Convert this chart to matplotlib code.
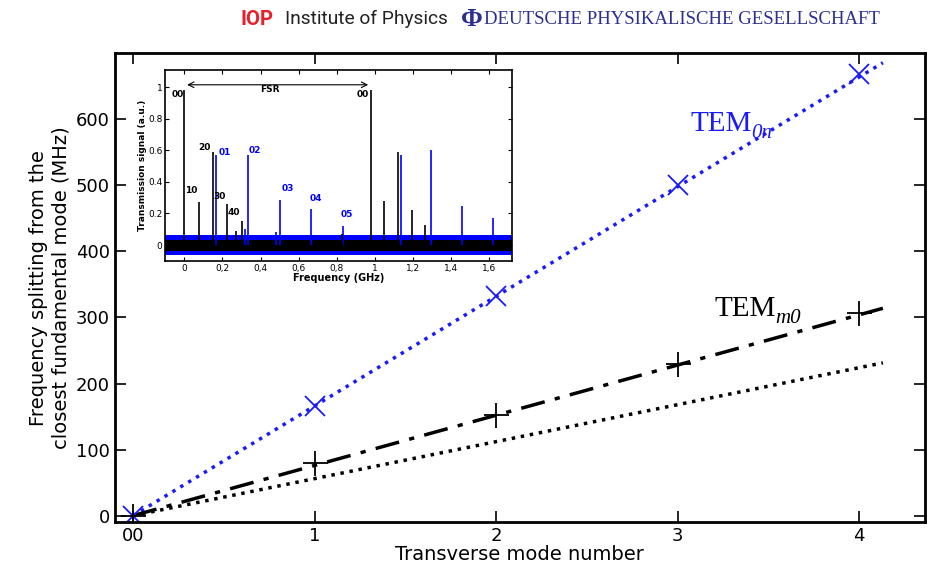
import matplotlib
matplotlib.use("Agg")
import matplotlib.pyplot as plt

# main plot data
modos = [0, 1, 2, 3, 4]
etiquetas_x = ["00", "1", "2", "3", "4"]
tem_0n = [0, 166, 332, 500, 668]
tem_m0 = [0, 79, 152, 230, 306]

# theoretical lines (slope in MHz per mode)
x_teoria = [0, 4.13]
pend_0n = 166
pend_m0 = 76
pend_punt = 56

# inset spectrum peaks
pico_negro_f = [0.0, 0.075, 0.152, 0.225, 0.305, 0.98, 1.05, 1.12, 1.195, 1.265, 0.27, 0.83]
pico_negro_h = [0.98, 0.27, 0.59, 0.26, 0.155, 0.98, 0.28, 0.59, 0.225, 0.125, 0.09, 0.07]
pico_azul_f = [0.165, 0.333, 0.50, 0.667, 0.833, 1.14, 1.297, 1.46, 1.62, 0.48, 0.32]
pico_azul_h = [0.57, 0.57, 0.285, 0.23, 0.12, 0.57, 0.60, 0.25, 0.17, 0.08, 0.10]

etiquetas_n = [("00", -0.005, 0.94), ("20", 0.14, 0.60), ("10", 0.07, 0.33),
               ("30", 0.215, 0.29), ("40", 0.295, 0.19), ("00", 0.97, 0.94)]
etiquetas_a = [("01", 0.18, 0.57), ("02", 0.34, 0.58), ("03", 0.51, 0.34),
               ("04", 0.66, 0.28), ("05", 0.82, 0.18)]

AZUL = "#1a1aff"

fig = plt.figure(figsize=(9.34, 5.72), dpi=100)
ax = fig.add_axes([0.123, 0.087, 0.867, 0.820])

xs = [x_teoria[0], x_teoria[1]]
ax.plot(xs, [pend_0n * x for x in xs], ":", color=AZUL, lw=2.5)
ax.plot(xs, [pend_m0 * x for x in xs], "-.", color="black", lw=2.5, dashes=(7, 3, 1.5, 3))
ax.plot(xs, [pend_punt * x for x in xs], ":", color="black", lw=2.5)
ax.plot(modos, tem_0n, "x", color=AZUL, ms=14, mew=1.3)
ax.plot(modos, tem_m0, "+", color="black", ms=18, mew=1.3)

def etiqueta_tem(x, y, sub, color):
    ax.text(x, y, "TEM", color=color, fontsize=21, family="Liberation Serif")
    ax.annotate(sub, xy=(x, y), xytext=(44, -5), textcoords="offset points",
                color=color, fontsize=15, family="Liberation Serif", style="italic")

etiqueta_tem(3.07, 582, "0n", AZUL)
etiqueta_tem(3.2, 302, "m0", "black")

ax.set_xlim(-0.1, 4.36)
ax.set_ylim(-10, 700)
ax.set_xticks(modos)
ax.set_xticklabels(etiquetas_x)
ax.set_yticks(range(0, 700, 100))
ax.tick_params(direction="in", length=8, width=1.2, top=True, right=True, labelsize=13)
for s in ax.spines.values():
    s.set_linewidth(2)
ax.set_xlabel("Transverse mode number", fontsize=14, labelpad=0)
ax.set_ylabel("Frequency splitting from the\nclosest fundamental mode (MHz)", fontsize=14)

# inset
ins = fig.add_axes([0.177, 0.544, 0.371, 0.334])
ins.fill_between([-0.1, 1.72], -0.065, 0.065, color="blue", lw=0)
ins.fill_between([-0.1, 1.72], -0.035, 0.035, color="black", lw=0)
ins.vlines(pico_azul_f, 0, pico_azul_h, color="blue", lw=1.2)
ins.vlines(pico_negro_f, 0, pico_negro_h, color="black", lw=1.2)
ins.annotate("", xy=(0.0, 1.015), xytext=(0.98, 1.015),
             arrowprops=dict(arrowstyle="<->", lw=0.8, color="black"))
ins.text(0.45, 0.97, "FSR", fontsize=6.5, fontweight="bold", ha="center")
for t, x, y in etiquetas_n:
    ins.text(x, y, t, fontsize=6.5, fontweight="bold", ha="right", color="black")
for t, x, y in etiquetas_a:
    ins.text(x, y, t, fontsize=6.5, fontweight="bold", ha="left", color="blue")
ins.set_xlim(-0.1, 1.72)
ins.set_ylim(-0.1, 1.11)
ins.set_xticks([0, 0.2, 0.4, 0.6, 0.8, 1.0, 1.2, 1.4, 1.6])
ins.set_xticklabels(["0", "0,2", "0,4", "0,6", "0,8", "1", "1,2", "1,4", "1,6"])
ins.set_yticks([0, 0.2, 0.4, 0.6, 0.8, 1])
ins.set_yticklabels(["0", "0.2", "0.4", "0.6", "0.8", "1"])
ins.tick_params(direction="in", length=3, width=0.8, top=True, right=True, labelsize=6.5, pad=2)
for s in ins.spines.values():
    s.set_linewidth(1.2)
ins.set_xlabel("Frequency (GHz)", fontsize=7, fontweight="bold", labelpad=0)
ins.set_ylabel("Transmission signal (a.u.)", fontsize=6.5, fontweight="bold", labelpad=1)

# header
fig.text(0.258, 0.966, "IOP", color="#e8202a", fontsize=14.5, fontweight="bold",
         family="Roboto", va="center")
fig.text(0.305, 0.966, "Institute of Physics", color="#222222", fontsize=13.8,
         family="Roboto", va="center")
fig.text(0.494, 0.966, "Φ", color="#2b2f8f", fontsize=19, fontweight="bold",
         family="Liberation Serif", va="center")
fig.text(0.518, 0.966, "DEUTSCHE PHYSIKALISCHE GESELLSCHAFT", color="#2b2f8f",
         fontsize=13.5, family="Liberation Serif", va="center")

fig.savefig("out.png", dpi=100)
